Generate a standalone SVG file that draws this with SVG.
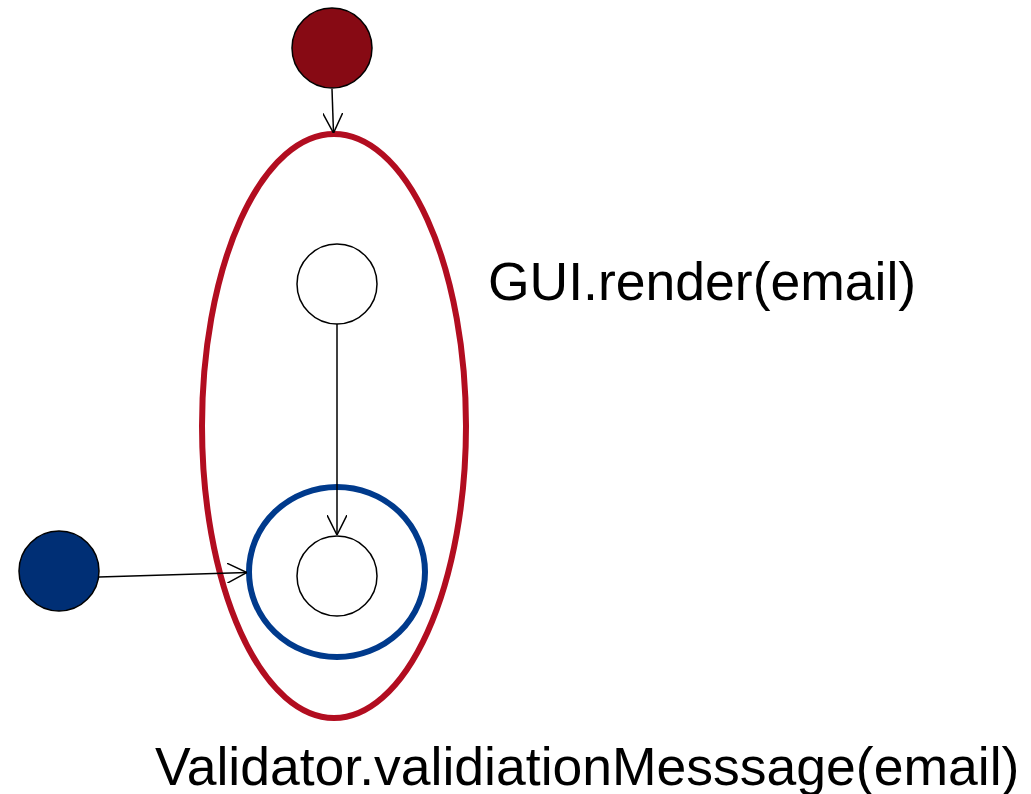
<svg xmlns="http://www.w3.org/2000/svg" width="1031" height="794" viewBox="0 0 1031 794">
  <style>
    .state { fill: #ffffff; stroke: #000000; stroke-width: 1.5; }
    .start-red { fill: #870A14; stroke: #000000; stroke-width: 1.5; }
    .start-blue { fill: #002F75; stroke: #000000; stroke-width: 1.5; }
    .region-red { fill: none; stroke: #B20D20; stroke-width: 6; }
    .region-blue { fill: none; stroke: #003A8C; stroke-width: 6; }
    .edge { fill: none; stroke: #000000; stroke-width: 1.5; marker-end: url(#open-arrow); }
    .label { font-family: "Liberation Sans", Arial, sans-serif; font-size: 53.5px; fill: #000000; }
  </style>
  <defs>
    <marker id="open-arrow" viewBox="0 0 20 20" refX="20" refY="10" markerWidth="20" markerHeight="20" markerUnits="userSpaceOnUse" orient="auto">
      <path d="M 0 0 L 20 10 L 0 20" fill="none" stroke="#000000" stroke-width="1.5"/>
    </marker>
  </defs>
  <rect width="1031" height="794" fill="#ffffff"/>

  <!-- outer region and nested region -->
  <g id="region-render">
    <ellipse class="region-red" cx="334" cy="426" rx="132" ry="292"/>
  </g>
  <g id="region-validation">
    <ellipse class="region-blue" cx="337" cy="572" rx="88" ry="85"/>
  </g>

  <!-- connectors -->
  <g id="connectors">
    <line class="edge" x1="332" y1="89" x2="333.5" y2="133"/>
    <line class="edge" x1="337" y1="324" x2="337" y2="535"/>
    <line class="edge" x1="99" y1="577" x2="247" y2="572.5"/>
  </g>

  <!-- nodes -->
  <g id="start-render">
    <circle class="start-red" cx="332" cy="48" r="40"/>
  </g>
  <g id="start-validation">
    <circle class="start-blue" cx="59" cy="571" r="40"/>
  </g>
  <g id="state-render">
    <circle class="state" cx="337" cy="284" r="40"/>
  </g>
  <g id="state-validation">
    <circle class="state" cx="337" cy="576" r="40"/>
  </g>

  <!-- labels -->
  <g id="label-render">
    <text class="label" x="488" y="300">GUI.render(email)</text>
  </g>
  <g id="label-validation">
    <text class="label" x="155" y="785">Validator.validiationMesssage(email)</text>
  </g>
</svg>
